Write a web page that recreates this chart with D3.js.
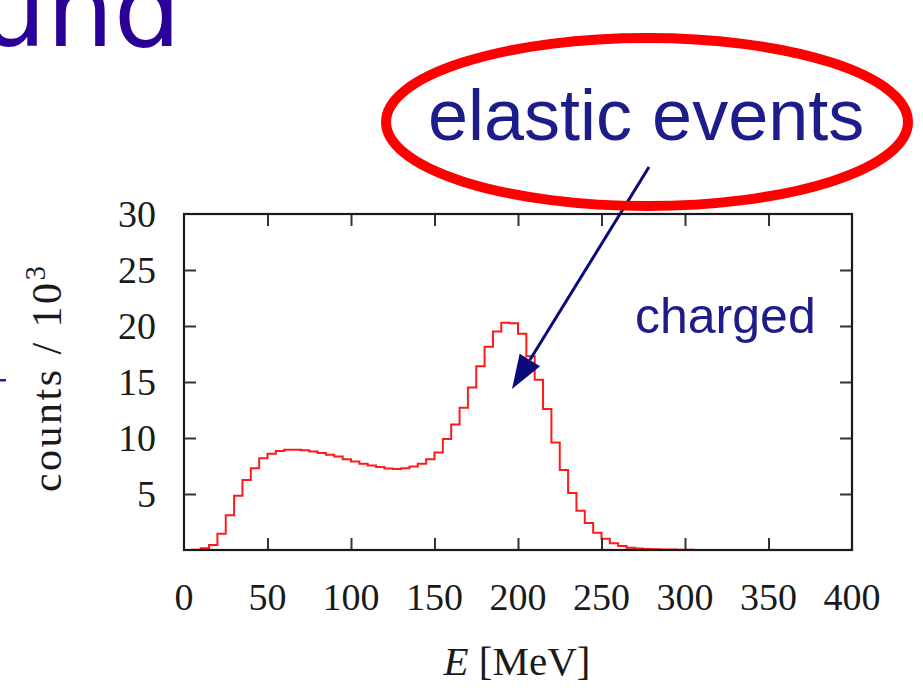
<!DOCTYPE html>
<html>
<head>
<meta charset="utf-8">
<script src="https://cdn.jsdelivr.net/npm/d3@7"></script>
<style>
  html, body { margin: 0; padding: 0; background: #fff; }
  svg { display: block; }
</style>
</head>
<body>
<svg id="chart" width="923" height="691"></svg>
<script>
// Energy histogram of charged events, 5 MeV bins (lower bin edges in MeV)
const binLowMeV = [5, 10, 15, 20, 25, 30, 35, 40, 45, 50, 55, 60, 65, 70, 75, 80, 85, 90, 95,
  100, 105, 110, 115, 120, 125, 130, 135, 140, 145, 150, 155, 160, 165, 170, 175, 180, 185, 190, 195,
  200, 205, 210, 215, 220, 225, 230, 235, 240, 245, 250, 255, 260, 265, 270, 275, 280, 285, 290, 295,
  300, 305];
// counts per bin, in units of 10^3
const countsK = [0.02, 0.15, 0.45, 1.45, 3.1, 4.85, 6.25, 7.3, 8.2, 8.6, 8.85, 8.95, 8.95, 8.9, 8.8, 8.65, 8.5, 8.35, 8.1,
  7.9, 7.7, 7.55, 7.4, 7.28, 7.23, 7.3, 7.45, 7.7, 8.1, 8.7, 9.9, 11.2, 12.7, 14.5, 16.4, 18.15, 19.5, 20.3, 20.25,
  19.3, 17.3, 15.2, 12.6, 9.6, 7.15, 5.1, 3.5, 2.4, 1.55, 1.0, 0.6, 0.36, 0.2, 0.13, 0.09, 0.06, 0.05, 0.04, 0.03,
  0.02, 0.01];
const binWidth = 5;

const xTickValues = [0, 50, 100, 150, 200, 250, 300, 350, 400];
const xTickLabels = ["0", "50", "100", "150", "200", "250", "300", "350", "400"];
const yTickValues = [5, 10, 15, 20, 25, 30];
const yTickLabels = ["5", "10", "15", "20", "25", "30"];

const svg = d3.select("#chart");

const x = d3.scaleLinear().domain([0, 400]).range([184, 852]);
const y = d3.scaleLinear().domain([0, 30]).range([550, 214]);

const serif = "'Liberation Serif', 'Times New Roman', serif";
const sans = "'Liberation Sans', Arial, sans-serif";
const navy = "#1c1c8a";

// slide heading fragment
svg.append("text")
  .attr("x", 181).attr("y", 46)
  .attr("text-anchor", "end")
  .attr("font-family", "'DejaVu Sans', sans-serif")
  .attr("font-size", 106)
  .attr("fill", "#2a0098")
  .text("und");

svg.append("rect")
  .attr("x", 0).attr("y", 379).attr("width", 6).attr("height", 2.5)
  .attr("fill", "#2020b0");

// histogram as a step line
const pts = [[x(binLowMeV[0]), y(0)]];
binLowMeV.forEach((lo, i) => {
  pts.push([x(lo), y(countsK[i])]);
  pts.push([x(lo + binWidth), y(countsK[i])]);
});
pts.push([x(binLowMeV[binLowMeV.length - 1] + binWidth), y(0)]);

svg.append("path")
  .attr("d", d3.line()(pts))
  .attr("fill", "none")
  .attr("stroke", "#ff1a1a")
  .attr("stroke-width", 2)
  .attr("stroke-linejoin", "miter");

// ticks on all four sides, pointing inward
const innerX = xTickValues.filter(v => v > 0 && v < 400);
const innerY = yTickValues.filter(v => v > 0 && v < 30);
const tickLen = 12;

svg.append("g").attr("transform", `translate(0,${y(0)})`)
  .call(d3.axisBottom(x).tickValues(innerX).tickSize(-tickLen).tickFormat(""))
  .call(g => g.select(".domain").remove());
svg.append("g").attr("transform", `translate(0,${y(30)})`)
  .call(d3.axisTop(x).tickValues(innerX).tickSize(-tickLen).tickFormat(""))
  .call(g => g.select(".domain").remove());
svg.append("g").attr("transform", `translate(${x(0)},0)`)
  .call(d3.axisLeft(y).tickValues(innerY).tickSize(-tickLen).tickFormat(""))
  .call(g => g.select(".domain").remove());
svg.append("g").attr("transform", `translate(${x(400)},0)`)
  .call(d3.axisRight(y).tickValues(innerY).tickSize(-tickLen).tickFormat(""))
  .call(g => g.select(".domain").remove());
svg.selectAll(".tick line").attr("stroke", "#333").attr("stroke-width", 2);

// frame
svg.append("rect")
  .attr("x", x(0)).attr("y", y(30))
  .attr("width", x(400) - x(0)).attr("height", y(0) - y(30))
  .attr("fill", "none").attr("stroke", "#1a1a1a").attr("stroke-width", 2.2);

// tick labels
svg.append("g").selectAll("text").data(xTickValues).join("text")
  .attr("x", d => x(d)).attr("y", 610)
  .attr("text-anchor", "middle")
  .attr("font-family", serif).attr("font-size", 38).attr("fill", "#1a1a1a")
  .text((d, i) => xTickLabels[i]);

svg.append("g").selectAll("text").data(yTickValues).join("text")
  .attr("x", 156).attr("y", d => y(d) + 13)
  .attr("text-anchor", "end")
  .attr("font-family", serif).attr("font-size", 38).attr("fill", "#1a1a1a")
  .text((d, i) => yTickLabels[i]);

// axis titles
const xt = svg.append("text")
  .attr("x", 517).attr("y", 675)
  .attr("text-anchor", "middle")
  .attr("font-family", serif).attr("font-size", 41).attr("fill", "#1a1a1a");
xt.append("tspan").attr("font-style", "italic").text("E");
xt.append("tspan").text(" [MeV]");

const yt = svg.append("text")
  .attr("transform", "translate(61,379) rotate(-90)")
  .attr("text-anchor", "middle")
  .attr("font-family", serif).attr("font-size", 42).attr("fill", "#1a1a1a")
  .attr("textLength", 226).attr("lengthAdjust", "spacing");
yt.append("tspan").text("counts / 10");
yt.append("tspan").attr("font-size", 29).attr("dy", -16).text("3");

// series label
svg.append("text")
  .attr("x", 635).attr("y", 333)
  .attr("font-family", sans).attr("font-size", 50)
  .attr("fill", navy)
  .text("charged");

// annotation arrow
const tip = [512, 389], tail = [649, 167];
const ang = Math.atan2(tip[1] - tail[1], tip[0] - tail[0]);
const headLen = 34, headHalf = 12;
const base = [tip[0] - headLen * Math.cos(ang), tip[1] - headLen * Math.sin(ang)];
svg.append("line")
  .attr("x1", tail[0]).attr("y1", tail[1])
  .attr("x2", base[0]).attr("y2", base[1])
  .attr("stroke", "#0a0a78").attr("stroke-width", 3);
svg.append("path")
  .attr("d", d3.line()([
    tip,
    [base[0] + headHalf * Math.sin(ang), base[1] - headHalf * Math.cos(ang)],
    [base[0] - headHalf * Math.sin(ang), base[1] + headHalf * Math.cos(ang)]
  ]) + "Z")
  .attr("fill", "#0a0a78");

// highlighted callout
svg.append("ellipse")
  .attr("cx", 647).attr("cy", 122).attr("rx", 261).attr("ry", 84)
  .attr("fill", "none").attr("stroke", "#ff0000").attr("stroke-width", 10);

svg.append("text")
  .attr("x", 428).attr("y", 140)
  .attr("font-family", sans).attr("font-size", 72)
  .attr("fill", navy)
  .text("elastic events");
</script>
</body>
</html>
